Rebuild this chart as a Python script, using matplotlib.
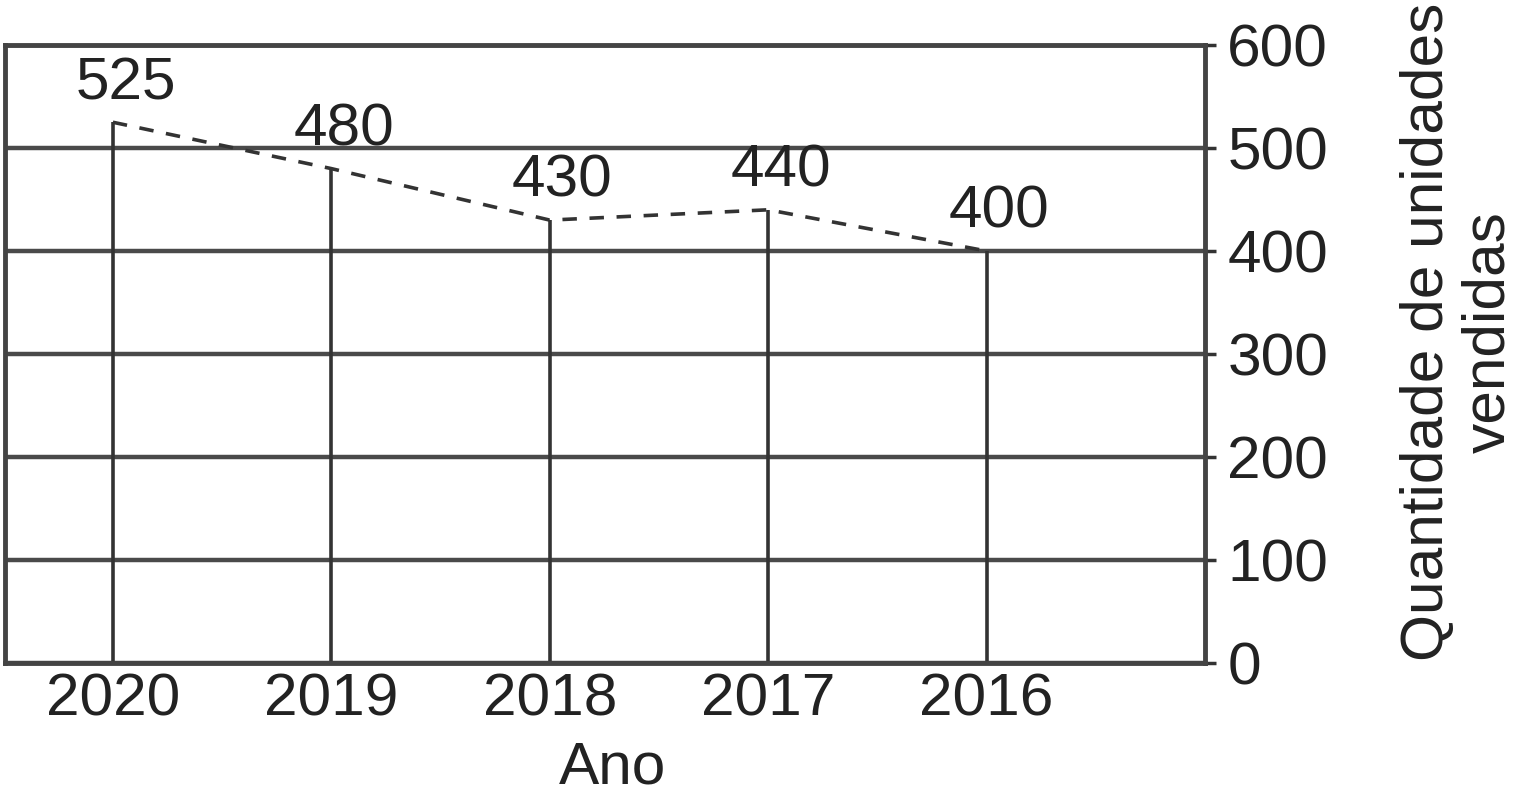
import matplotlib.pyplot as plt

# dados do gráfico
anos = ['2020', '2019', '2018', '2017', '2016']
unidades = [525, 480, 430, 440, 400]
y_ticks = [0, 100, 200, 300, 400, 500, 600]

plt.rcParams['font.family'] = ['Liberation Sans', 'DejaVu Sans']

fig = plt.figure(figsize=(15.14, 8), dpi=100)
ax = fig.add_axes([5 / 1514, 1 - 663 / 800, 1200 / 1514, 618 / 800])

x = list(range(len(anos)))
cor = '#333333'
fs = 43.5

# linhas de grade horizontais
for t in y_ticks:
    ax.axhline(t, color='#4a4a4a', lw=3.2, zorder=1)

# hastes verticais
ax.vlines(x, 0, unidades, color=cor, lw=2.6, zorder=2)
# linha tracejada ligando os topos
ax.plot(x, unidades, color=cor, lw=2.6, ls=(0, (4, 3.5)), zorder=3)

for xi, v in zip(x, unidades):
    ax.annotate(str(v), (xi, v), xytext=(9, 8), textcoords='offset points',
                ha='center', va='bottom', fontsize=fs, color='#222222')

ax.set_xlim(-0.494, 5.0)
ax.set_ylim(0, 600)
ax.set_xticks(x)
ax.set_xticklabels(anos)
ax.set_yticks(y_ticks)

ax.yaxis.tick_right()
ax.tick_params(axis='y', length=8, width=2.5, color=cor, pad=8, labelsize=fs, labelcolor='#222222')
ax.tick_params(axis='x', length=0, pad=7, labelsize=fs, labelcolor='#222222')

for s in ax.spines.values():
    s.set_color('#444444')
    s.set_linewidth(3.5)

ax.set_xlabel('Ano', fontsize=fs, color='#222222')
ax.xaxis.set_label_coords(0.506, -0.125)
fig.text(1458 / 1514, 1 - 332 / 800, 'Quantidade de unidades\nvendidas', rotation=90,
         ha='center', va='center', multialignment='center', fontsize=fs,
         color='#222222', linespacing=1.15)

fig.savefig('out.png', dpi=100)
